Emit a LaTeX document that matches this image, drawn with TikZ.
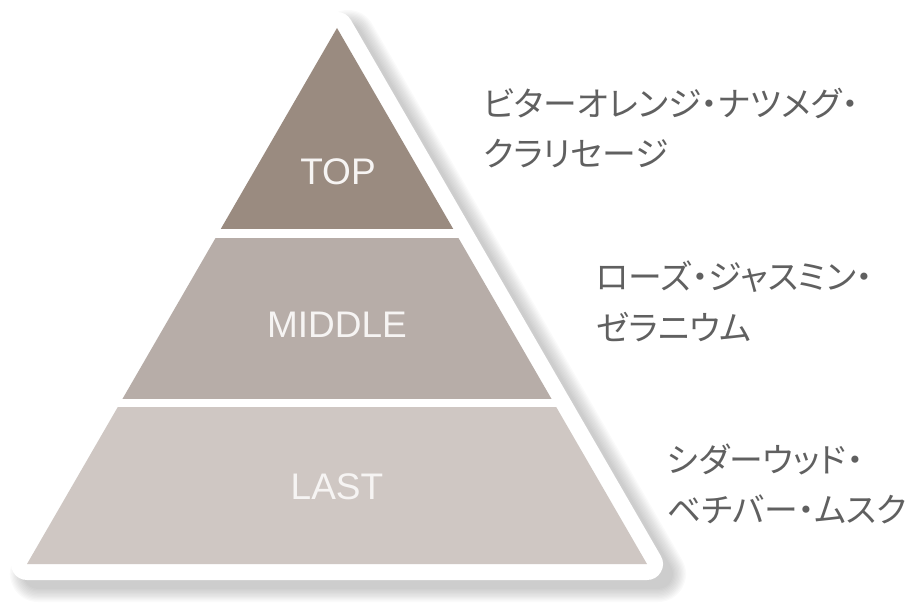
\documentclass[tikz,border=0pt]{standalone}
\usepackage{fontspec}
\setmainfont{Liberation Sans}
\newfontfamily\jpfont[RawFeature=+palt]{Noto Sans CJK JP}
\definecolor{topc}{HTML}{9A8B80}
\definecolor{midc}{HTML}{B7ADA8}
\definecolor{lastc}{HTML}{CFC7C3}
\definecolor{txtc}{HTML}{606060}
\definecolor{lblc}{HTML}{F6F4F3}
\tikzset{
  jptext/.style={anchor=west, text=txtc, font=\jpfont\fontsize{33.8}{34}\selectfont, inner sep=0pt},
  bandlabel/.style={text=lblc, font=\fontsize{37}{37}\selectfont, inner sep=0pt},
}
\begin{document}
\begin{tikzpicture}[x=1pt,y=-1pt]
\useasboundingbox (0,0) rectangle (914,612);
% soft shadow
\foreach \i in {0,...,10}{
  \draw[black, fill=black, opacity=0.02, line join=round, line width={30+2.6*\i}]
    (38,574) -- (348,38) -- (658,574) -- cycle;
}
% white rounded plate
\draw[white, fill=white, line join=round, line width=32] (27,564) -- (337,28) -- (647,564) -- cycle;
% bands
\begin{scope}
  \clip (27,564) -- (337,28) -- (647,564) -- cycle;
  \fill[topc] (0,20) rectangle (914,229);
  \fill[midc] (0,238) rectangle (914,399);
  \fill[lastc] (0,407.5) rectangle (914,570);
\end{scope}
\node[bandlabel] (top) at (338,172) {TOP};
\node[bandlabel] (mid) at (337,325) {MIDDLE};
\node[bandlabel] (last) at (337,487) {LAST};
\node[jptext] (t1) at (483,103) {ビターオレンジ・ナツメグ・};
\node[jptext] (t2) at (483,154) {クラリセージ};
\node[jptext] (m1) at (596,277) {ローズ・ジャスミン・};
\node[jptext] (m2) at (596,327) {ゼラニウム};
\node[jptext] (l1) at (667,459) {シダーウッド・};
\node[jptext] (l2) at (667,509) {ベチバー・ムスク};
\end{tikzpicture}
\end{document}
